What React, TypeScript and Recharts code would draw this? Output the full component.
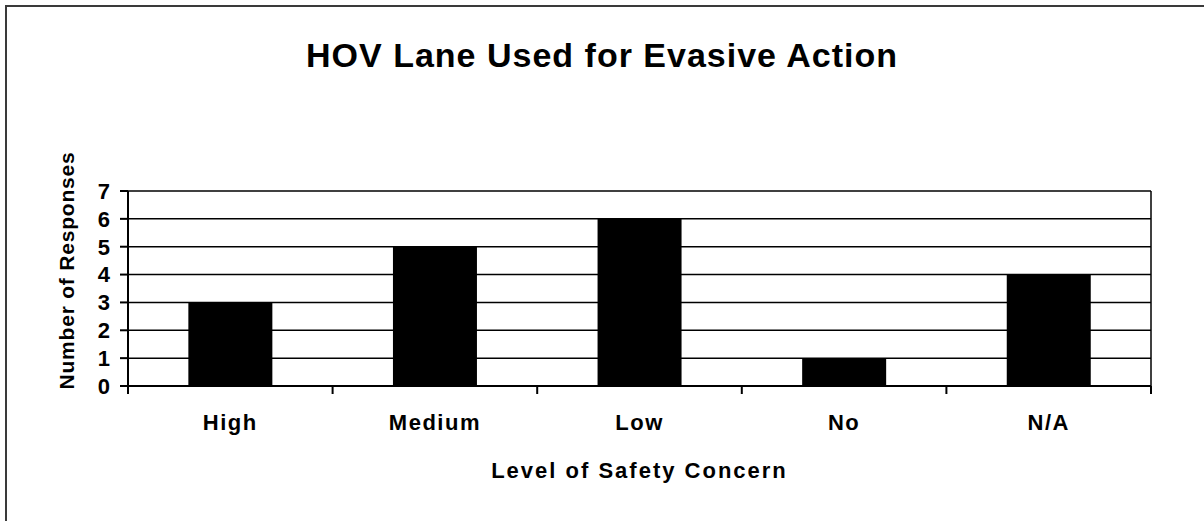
import React from 'react';
import { BarChart, Bar, XAxis, YAxis, CartesianGrid, Label } from 'recharts';

const categories = ['High', 'Medium', 'Low', 'No', 'N/A'];
const responses = [3, 5, 6, 1, 4];
const yTicks = [0, 1, 2, 3, 4, 5, 6, 7];

const FONT = '"Liberation Sans", Arial, Helvetica, sans-serif';
const LABEL_GAP = 28; // distance from axis line to top of category labels
const MARK = 8;

const data = categories.map((level, i) => ({ level, responses: responses[i] }));

// category label plus tick marks on the category boundaries (Excel style)
const CategoryTick = (props: any) => {
  const { x, y, payload, index, visibleTicksCount } = props;
  const half = payload.offset || 0;
  const axisY = y - LABEL_GAP;
  return (
    <g>
      <line x1={x - half} x2={x - half} y1={axisY} y2={axisY + MARK} stroke="#000" strokeWidth={2} />
      {index === visibleTicksCount - 1 && (
        <line x1={x + half} x2={x + half} y1={axisY} y2={axisY + MARK} stroke="#000" strokeWidth={2} />
      )}
      <text
        x={x}
        y={y}
        dy="0.71em"
        textAnchor="middle"
        fill="#000"
        fontSize={22}
        fontWeight={700}
        fontFamily={FONT}
        letterSpacing={1.5}
      >
        {payload.value}
      </text>
    </g>
  );
};

export default function App() {
  const tickStyle = { fill: '#000', fontSize: 22, fontWeight: 700, fontFamily: FONT };

  return (
    <div style={{ position: 'absolute', left: 0, top: 0, width: 1204, height: 521, background: '#fff' }}>
      {/* frame: only top and left edges are visible */}
      <div
        style={{
          position: 'absolute',
          left: 5,
          top: 5,
          width: 1199,
          height: 516,
          borderTop: '2px solid #3a3a3a',
          borderLeft: '2px solid #3a3a3a',
          boxSizing: 'border-box',
        }}
      />
      <div
        style={{
          position: 'absolute',
          left: 0,
          top: 38,
          width: 1204,
          textAlign: 'center',
          fontFamily: FONT,
          fontWeight: 700,
          fontSize: 34,
          lineHeight: '34px',
          letterSpacing: 1,
          color: '#000',
        }}
      >
        HOV Lane Used for Evasive Action
      </div>
      <BarChart
        width={1204}
        height={521}
        data={data}
        margin={{ top: 191, right: 53, bottom: 43, left: 6 }}
        barCategoryGap="29.5%"
        style={{ position: 'absolute', left: 0, top: 0 }}
      >
        <CartesianGrid
          stroke="#000"
          strokeWidth={1.5}
          vertical={true}
          verticalCoordinatesGenerator={({ offset }: any) => [offset.left + offset.width]}
        />
        <XAxis
          dataKey="level"
          height={92}
          interval={0}
          axisLine={{ stroke: '#000', strokeWidth: 2 }}
          tickLine={false}
          tickSize={0}
          tickMargin={LABEL_GAP}
          tick={<CategoryTick />}
        >
          <Label
            value="Level of Safety Concern"
            position="insideBottom"
            offset={0}
            style={{ fill: '#000', fontSize: 22, fontWeight: 700, fontFamily: FONT, letterSpacing: 2 }}
          />
        </XAxis>
        <YAxis
          domain={[0, 7]}
          ticks={yTicks}
          interval={0}
          width={122}
          tickSize={8}
          tickMargin={10}
          axisLine={{ stroke: '#000', strokeWidth: 2 }}
          tickLine={{ stroke: '#000', strokeWidth: 2 }}
          tick={tickStyle}
        >
          <Label
            value="Number of Responses"
            angle={-90}
            position="center"
            dy={-18}
            style={{ fill: '#000', fontSize: 21, fontWeight: 700, fontFamily: FONT, letterSpacing: 0.8 }}
          />
        </YAxis>
        <Bar dataKey="responses" fill="#000" isAnimationActive={false} />
      </BarChart>
    </div>
  );
}
